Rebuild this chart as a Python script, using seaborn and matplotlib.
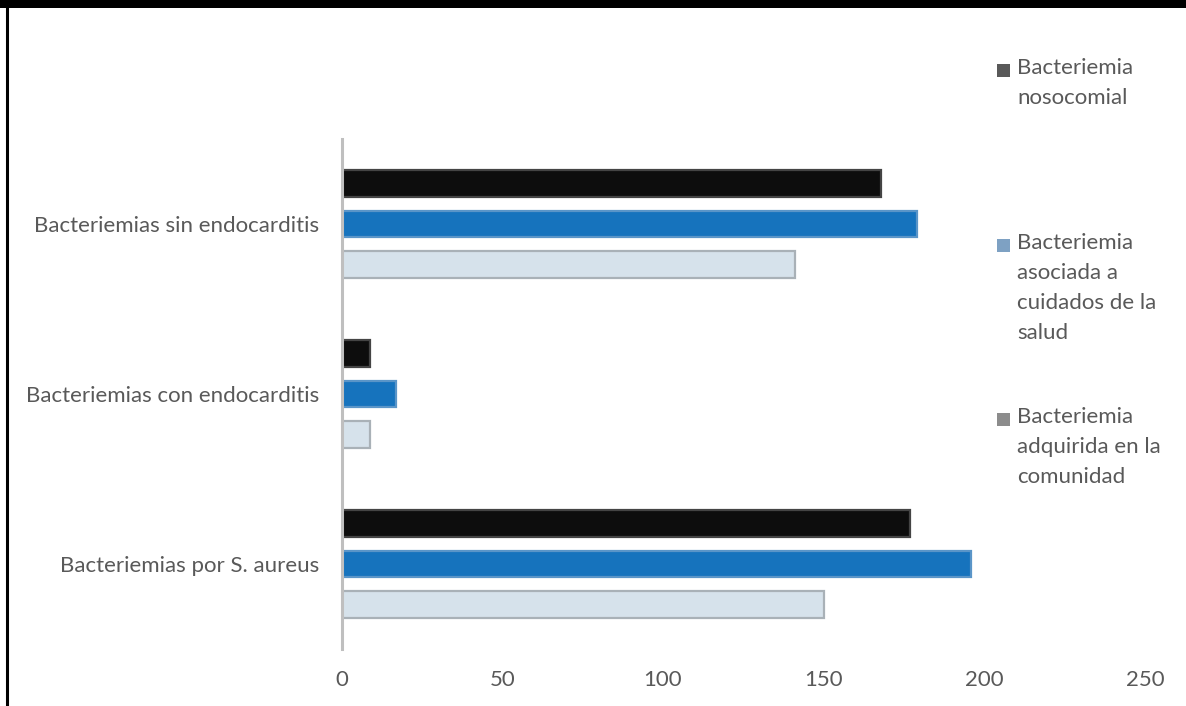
import matplotlib
matplotlib.use("Agg")
import matplotlib.pyplot as plt
import seaborn as sns
import pandas as pd
from matplotlib.patches import Rectangle
from matplotlib.lines import Line2D

categories = ["Bacteriemias sin endocarditis",
              "Bacteriemias con endocarditis",
              "Bacteriemias por S. aureus"]
series = ["Bacteriemia nosocomial",
          "Bacteriemia asociada a cuidados de la salud",
          "Bacteriemia adquirida en la comunidad"]
legend_labels = ["Bacteriemia\nnosocomial",
                 "Bacteriemia\nasociada a\ncuidados de la\nsalud",
                 "Bacteriemia\nadquirida en la\ncomunidad"]
nosocomial = [168, 9, 177]
asociada = [179, 17, 196]
comunidad = [141, 9, 150]
xticks = [0, 50, 100, 150, 200, 250]

bar_faces = ["#0d0d0d", "#1673bd", "#d6e2eb"]
bar_edges = ["#444444", "#5a95c8", "#a9b1b7"]
legend_colors = ["#595959", "#7ea1c3", "#8c8c8c"]
text_color = "#595959"

rows = []
for s, vals in zip(series, [nosocomial, asociada, comunidad]):
    for c, v in zip(categories, vals):
        rows.append({"cat": c, "serie": s, "valor": v})
df = pd.DataFrame(rows)

sns.set_theme(style="white")
plt.rcParams["font.family"] = ["Lato", "DejaVu Sans"]

W, H = 1186, 706
fig = plt.figure(figsize=(W / 100, H / 100), dpi=100)
ax = fig.add_axes([341.5 / W, 1 - 649 / H, (1145 - 341.5) / W, (649 - 139) / H])

sns.barplot(data=df, y="cat", x="valor", hue="serie", order=categories,
            hue_order=series, palette=bar_faces, orient="h",
            width=0.72, gap=0.34, ax=ax, legend=False, saturation=1)

for cont, ec in zip(ax.containers, bar_edges):
    for p in cont:
        p.set_edgecolor(ec)
        p.set_linewidth(1.6)

ax.set_xlim(0, 250)
ax.set_ylim(2.5, -0.5)
ax.set_xticks(xticks)
ax.set_xlabel("")
ax.set_ylabel("")
for s in ["top", "right", "bottom"]:
    ax.spines[s].set_visible(False)
ax.spines["left"].set_color("#bfbfbf")
ax.spines["left"].set_linewidth(2.2)
ax.tick_params(axis="both", length=0, labelsize=16, labelcolor=text_color)
ax.tick_params(axis="x", pad=15)
ax.tick_params(axis="y", pad=16)
ax.grid(False)

# frame: black top band and left line
fig.add_artist(Rectangle((0, 1 - 8 / H), 1, 8 / H, transform=fig.transFigure,
                         facecolor="black", edgecolor="none"))
fig.add_artist(Line2D([7 / W, 7 / W], [0, 1], transform=fig.transFigure,
                      color="black", linewidth=2.2))

# legend
tops = [58, 233, 407]
for lab, col, t in zip(legend_labels, legend_colors, tops):
    fig.add_artist(Rectangle((997 / W, 1 - (t + 19) / H), 13 / W, 13 / H,
                             transform=fig.transFigure, facecolor=col,
                             edgecolor="none"))
    fig.text(1017 / W, 1 - t / H, lab, ha="left", va="top", fontsize=16,
             color=text_color, linespacing=1.63)

fig.savefig("out.png", dpi=100)
